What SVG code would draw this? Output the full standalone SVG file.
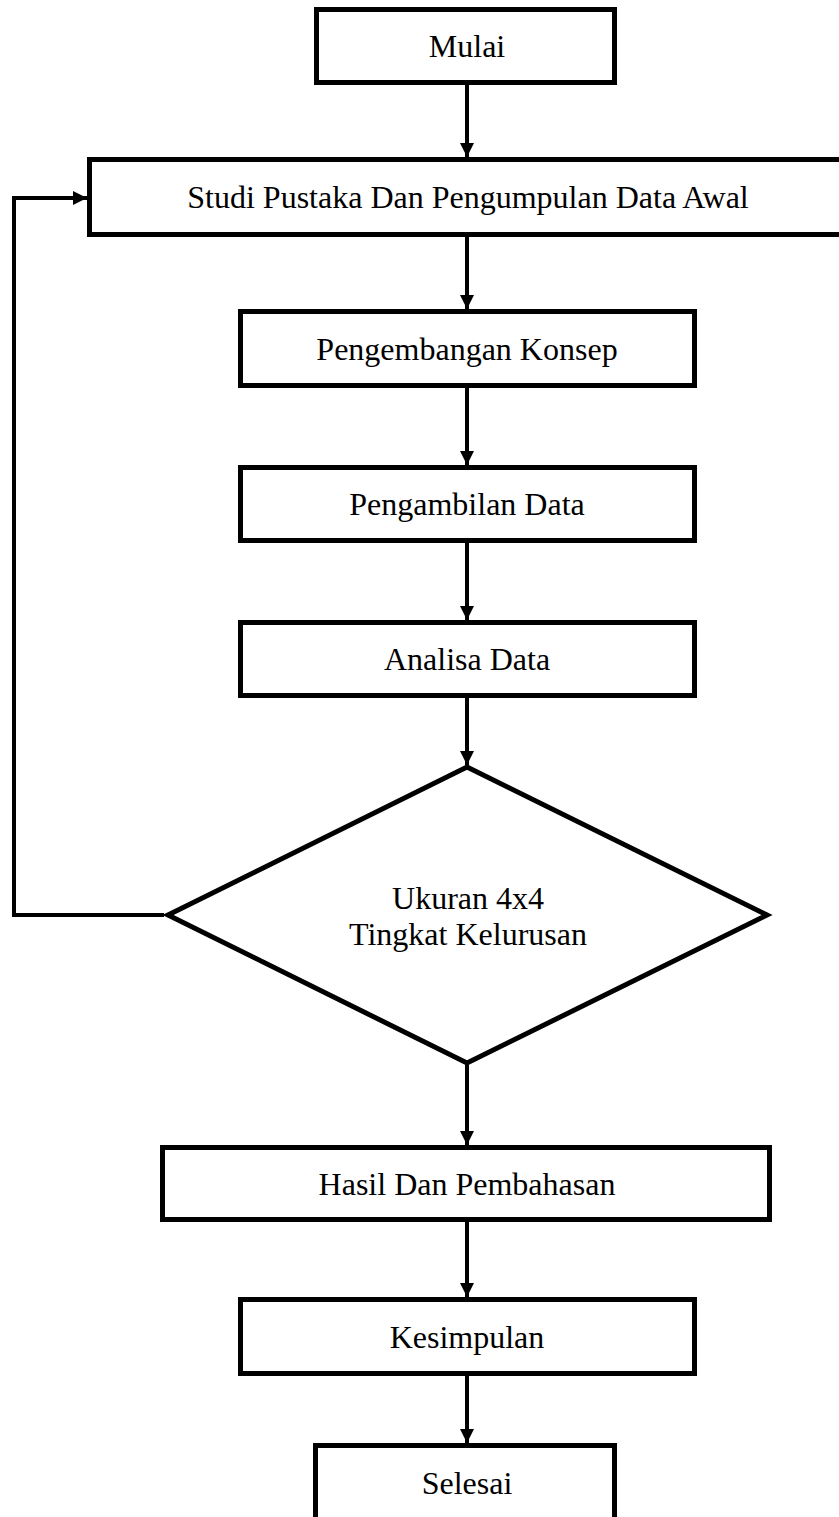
<svg xmlns="http://www.w3.org/2000/svg" width="839" height="1517" viewBox="0 0 839 1517">
<defs>
<marker id="ah" viewBox="0 0 14 14" refX="14" refY="7" markerWidth="14" markerHeight="14" orient="auto" markerUnits="userSpaceOnUse">
<path d="M0,0 L14,7 L0,14 z" fill="#000"/>
</marker>
<style>
.box{fill:#fff;stroke:#000;stroke-width:5}
.t{font-family:"Liberation Serif","Times New Roman",serif;font-size:32px;fill:#000;text-anchor:middle}
.c{fill:none;stroke:#000;stroke-width:4}
</style>
</defs>
<rect width="839" height="1517" fill="#fff"/>
<g id="mulai"><rect class="box" x="316.5" y="9.5" width="298" height="73"/><text class="t" x="467" y="57">Mulai</text></g>
<g id="studi"><rect class="box" x="89.5" y="159.5" width="760" height="75"/><text class="t" x="468" y="208">Studi Pustaka Dan Pengumpulan Data Awal</text></g>
<g id="konsep"><rect class="box" x="240.5" y="311.5" width="454" height="74"/><text class="t" x="467" y="360">Pengembangan Konsep</text></g>
<g id="pengambilan"><rect class="box" x="240.5" y="467.5" width="454" height="73"/><text class="t" x="467" y="515">Pengambilan Data</text></g>
<g id="analisa"><rect class="box" x="240.5" y="622.5" width="454" height="73"/><text class="t" x="467" y="670">Analisa Data</text></g>
<g id="keputusan"><polygon class="box" points="467,767 767,915 467,1063 168,915"/><text class="t" x="468" y="909">Ukuran 4x4</text><text class="t" x="468" y="945">Tingkat Kelurusan</text></g>
<g id="hasil"><rect class="box" x="162.5" y="1147.5" width="607" height="72"/><text class="t" x="467" y="1195">Hasil Dan Pembahasan</text></g>
<g id="kesimpulan"><rect class="box" x="240.5" y="1299.5" width="454" height="74"/><text class="t" x="467" y="1348">Kesimpulan</text></g>
<g id="selesai"><rect class="box" x="315.5" y="1445.5" width="299" height="90"/><text class="t" x="467" y="1494">Selesai</text></g>
<g id="connectors">
<line class="c" x1="467" y1="85" x2="467" y2="157" marker-end="url(#ah)"/>
<line class="c" x1="467" y1="237" x2="467" y2="309" marker-end="url(#ah)"/>
<line class="c" x1="467" y1="388" x2="467" y2="465" marker-end="url(#ah)"/>
<line class="c" x1="467" y1="543" x2="467" y2="620" marker-end="url(#ah)"/>
<line class="c" x1="467" y1="698" x2="467" y2="765" marker-end="url(#ah)"/>
<line class="c" x1="467" y1="1065" x2="467" y2="1145" marker-end="url(#ah)"/>
<line class="c" x1="467" y1="1222" x2="467" y2="1297" marker-end="url(#ah)"/>
<line class="c" x1="467" y1="1376" x2="467" y2="1443" marker-end="url(#ah)"/>
<path class="c" d="M164,915 L14,915 L14,198 L87,198" marker-end="url(#ah)"/>
</g>
</svg>
